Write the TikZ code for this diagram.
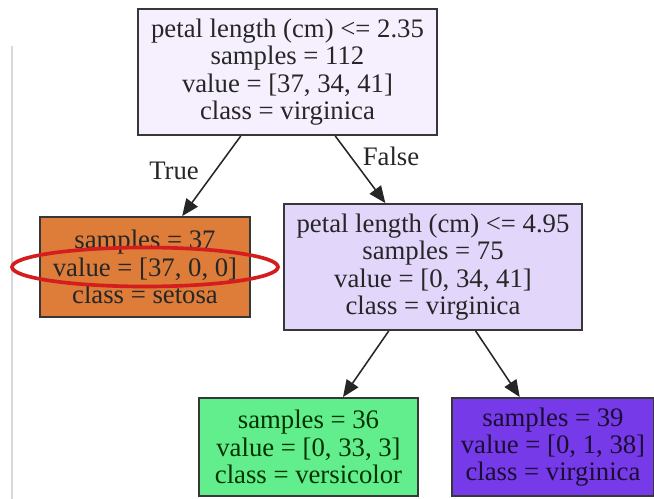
\documentclass[tikz,border=0pt]{standalone}
\usepackage{fontspec}
\setmainfont{Liberation Serif}
\usetikzlibrary{arrows.meta}
\definecolor{treeborder}{RGB}{55,55,55}
\definecolor{rootfill}{RGB}{246,240,254}
\definecolor{splitfill}{RGB}{226,214,251}
\definecolor{setosafill}{RGB}{222,124,58}
\definecolor{versifill}{RGB}{98,238,140}
\definecolor{virgifill}{RGB}{118,58,232}
\definecolor{markred}{RGB}{212,30,30}

\begin{document}
\begin{tikzpicture}[x=0.025cm, y=-0.025cm, >={Triangle[length=12pt,width=10pt]}]
\tikzset{
  treebox/.style={draw=treeborder, line width=1.3pt, inner sep=0pt, align=center,
                  font=\fontsize{19}{19.4}\selectfont},
  edge/.style={->, line width=1.1pt, draw=black!85},
}
\useasboundingbox (0,0) rectangle (654,499);
\draw[black!15, line width=1pt] (12,46) -- (12,499);

\node[treebox, fill=rootfill, text=black!85, minimum width=7.475cm, minimum height=3.15cm]
  (root) at (287.5,72) {petal length (cm) <= 2.35\\samples = 112\\value = [37, 34, 41]\\class = virginica};
\node[treebox, fill=setosafill, text=black!85, minimum width=5.25cm, minimum height=2.5cm]
  (setosa) at (145,267) {samples = 37\\value = [37, 0, 0]\\class = setosa};
\node[treebox, fill=splitfill, text=black!85, minimum width=7.45cm, minimum height=3.15cm]
  (split) at (433,267) {petal length (cm) <= 4.95\\samples = 75\\value = [0, 34, 41]\\class = virginica};
\node[treebox, fill=versifill, text=black!80!green, minimum width=5.475cm, minimum height=2.45cm]
  (versi) at (308.5,447) {samples = 36\\value = [0, 33, 3]\\class = versicolor};
\node[treebox, fill=virgifill, text=black!78!virgifill, minimum width=5.05cm, minimum height=2.45cm]
  (virgi) at (553,447) {samples = 39\\value = [0, 1, 38]\\class = virginica};

\draw[edge] (root) -- (setosa);
\draw[edge] (root) -- (split);
\draw[edge] (split) -- (versi);
\draw[edge] (split) -- (virgi);

\node[font=\fontsize{19}{19}\selectfont, text=black!85] (truelbl) at (174,171) {True};
\node[font=\fontsize{19}{19}\selectfont, text=black!85] (falselbl) at (391,156) {False};

% red mark round the value line
\draw[markred, line width=2.6pt] (setosa.center) ellipse [x radius=133, y radius=19.5];
\end{tikzpicture}
\end{document}
